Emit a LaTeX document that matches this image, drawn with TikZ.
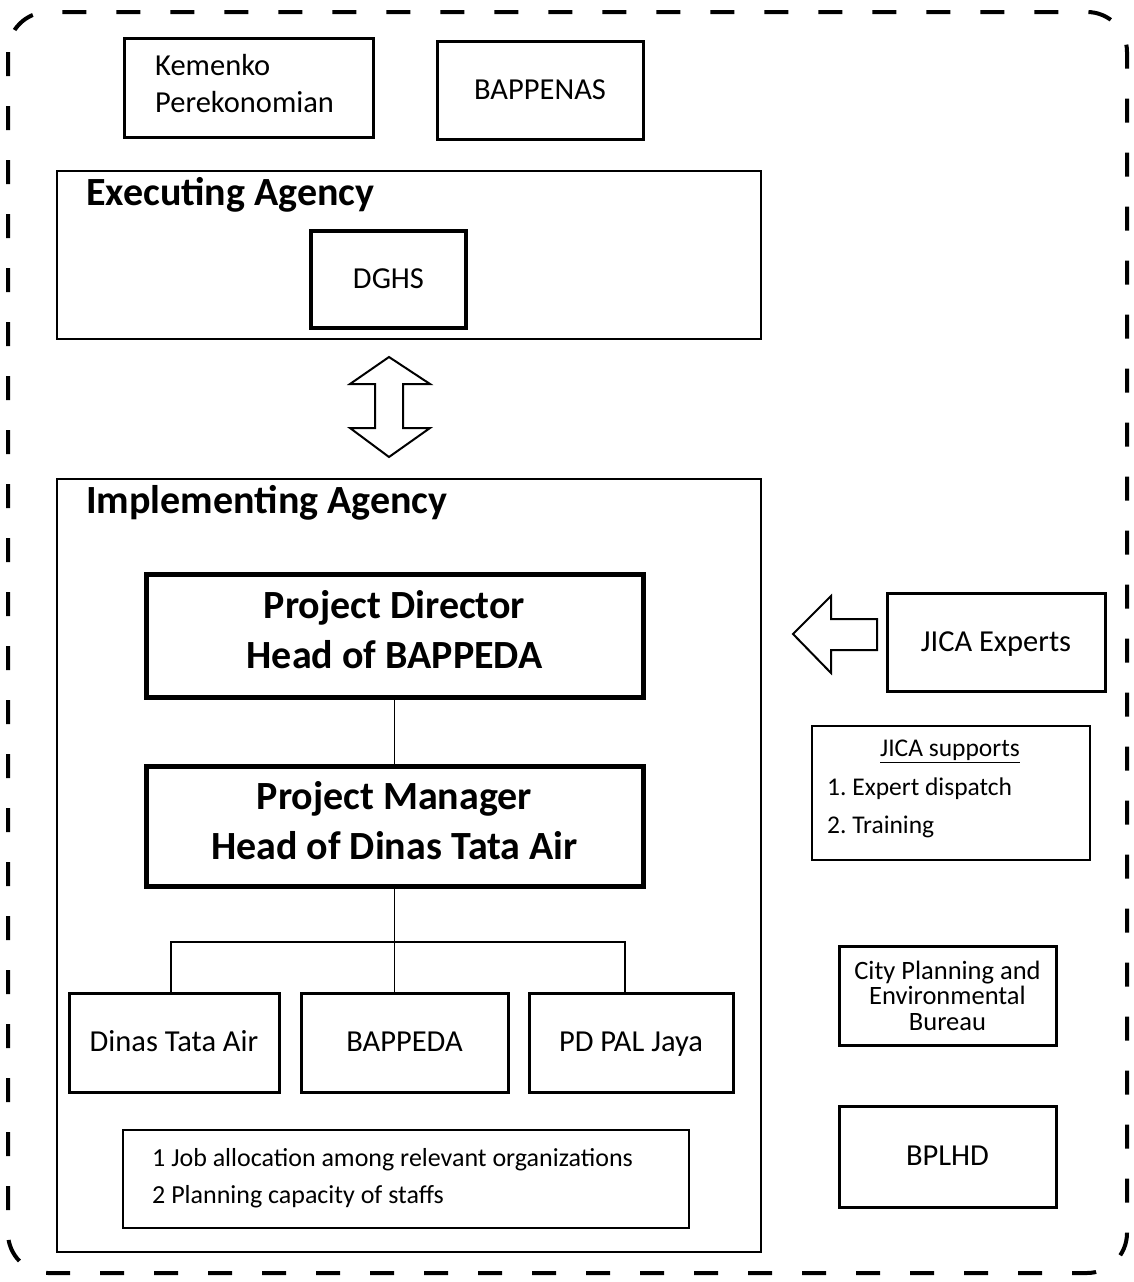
\documentclass[tikz,border=0pt]{standalone}
\usepackage{fontspec}
\setmainfont{Carlito}
\frenchspacing
\newcommand\fsz[2]{\fontsize{#1}{#2}\selectfont}
\begin{document}
\begin{tikzpicture}[x=1pt,y=-1pt,
  box/.style={draw, line width=3pt, inner sep=0pt, align=center, font=\fsz{30.5}{37}, text height=24pt, text depth=6pt},
  mbox/.style={draw, line width=3pt, inner sep=0pt},
  bigbox/.style={draw, line width=5pt, inner sep=0pt},
  bigtext/.style={inner sep=0pt, align=center, font=\bfseries\fsz{40}{50}},
  thinbox/.style={draw, line width=1.3pt, inner sep=0pt},
  title/.style={inner sep=0pt, font=\bfseries\fsz{40}{44}},
  small/.style={inner sep=0pt, font=\fsz{25.5}{37}},
  conn/.style={line width=1.3pt},
  blockarrow/.style={draw, line width=2pt, fill=white, line join=miter},
  outer/.style={line width=4pt, dash pattern=on 24pt off 30pt, rounded corners=40pt}
]
\useasboundingbox (0,0) rectangle (1133,1282);
\draw[outer] (8,12) rectangle (1127,1273);

% top boxes
\node[mbox, minimum width=249, minimum height=99] (kem) at (248.5,87.5) {};
\node[inner sep=0pt, align=left, font=\fsz{30.5}{37}, anchor=west] (kemtext) at (155,84) {Kemenko\\Perekonomian};
\node[box, minimum width=206, minimum height=98] (bappenas) at (540,90) {BAPPENAS};

% executing agency
\node[thinbox, minimum width=704, minimum height=168] (exec) at (409,255) {};
\node[title, anchor=base west] (exectitle) at (86,205) {Executing Agency};
\node[box, line width=3.5pt, minimum width=155, minimum height=97] (dghs) at (388.5,279.5) {DGHS};

% double arrow
\draw[blockarrow] (389,357) -- (430,384) -- (403,384) -- (403,428) -- (430,428) -- (389,457)
  -- (350,428) -- (375,428) -- (375,384) -- (350,384) -- cycle;

% implementing agency
\node[thinbox, minimum width=704, minimum height=773] (impl) at (409,865.5) {};
\node[title, anchor=base west] (impltitle) at (86,513) {Implementing Agency};

\node[bigbox, minimum width=497, minimum height=123] (pd) at (394.5,635.5) {};
\node[bigtext, yshift=6pt] (pdtext) at (pd.center) {Project Director\\Head of BAPPEDA};
\node[bigbox, minimum width=497, minimum height=120] (pm) at (394.5,826) {};
\node[bigtext, yshift=5pt] (pmtext) at (pm.center) {Project Manager\\Head of Dinas Tata Air};
\draw[conn] (pd.south) -- (pm.north);

\node[box, minimum width=210, minimum height=99] (dta) at (174,1042.5) {Dinas Tata Air};
\node[box, minimum width=207, minimum height=99] (bap) at (404.5,1042.5) {BAPPEDA};
\node[box, minimum width=204, minimum height=99] (pal) at (631,1042.5) {PD PAL Jaya};

\coordinate (bus) at (394.5,942);
\draw[conn] (pm.south) -- (bus);
\draw[conn] (bus) -- (bus -| 171,0) -- (171,0 |- dta.north);
\draw[conn] (bus) -- (bus -| 625,0) -- (625,0 |- pal.north);
\draw[conn] (bus) -- (bus |- bap.north);

\node[thinbox, minimum width=566, minimum height=98] (notes) at (406,1179) {};
\node[small, font=\fsz{26}{37}, align=left, anchor=west] (notestext) at (152,1178) {1 Job allocation among relevant organizations\\2 Planning capacity of staffs};

% right column
\node[box, minimum width=218, minimum height=98] (jica) at (996,642) {JICA Experts};
\draw[blockarrow] (793,634) -- (831,596) -- (831,619) -- (877,619) -- (877,650) -- (831,650) -- (831,673) -- cycle;

\node[thinbox, minimum width=278, minimum height=134] (sup) at (951,793) {};
\node[small] (suptitle) at (950,751) {\underline{JICA supports}};
\node[small, anchor=west] (sup1) at (827,789) {1. Expert dispatch};
\node[small, anchor=west] (sup2) at (827,827) {2. Training};

\node[mbox, minimum width=217, minimum height=99] (city) at (947.5,995.5) {};
\node[inner sep=0pt, align=center, font=\fsz{26.5}{25.5}] (citytext) at (city.center) {City Planning and\\Environmental\\Bureau};
\node[box, minimum width=217, minimum height=101] (bplhd) at (947.5,1156.5) {BPLHD};
\end{tikzpicture}
\end{document}
